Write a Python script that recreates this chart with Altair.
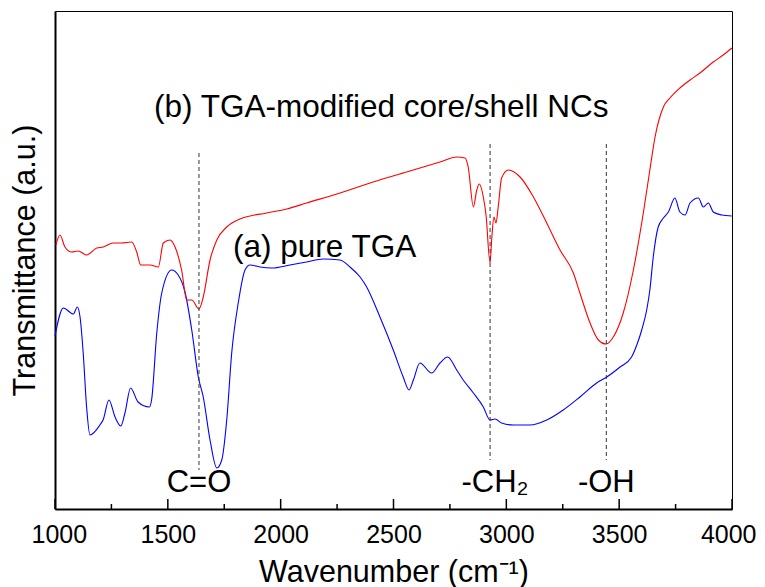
import altair as alt
import pandas as pd

# ---- curve (a) pure TGA (blue) ----
blue_wn = [1000, 1037, 1081, 1099, 1111, 1125, 1140, 1155, 1199, 1213, 1239, 1266, 1292, 1310,
           1335, 1368, 1418, 1428, 1451, 1473, 1517, 1546, 1576, 1606, 1635, 1657, 1687, 1717,
           1739, 1761, 1783, 1812, 1842, 1864, 1908, 1960, 2041, 2115, 2189, 2263, 2307, 2352,
           2381, 2440, 2499, 2543, 2569, 2588, 2617, 2669, 2706, 2740, 2780, 2809, 2854, 2898,
           2928, 2950, 2979, 3031, 3105, 3179, 3252, 3326, 3400, 3445, 3504, 3555, 3578, 3600,
           3622, 3636, 3651, 3673, 3696, 3718, 3747, 3769, 3792, 3814, 3851, 3873, 3895, 3917,
           3954, 3999]
blue_t = [173, 201, 195, 202, 192, 156, 102, 74, 84, 89, 109, 92, 83, 96,
          121, 107, 102, 109, 176, 216, 239, 234, 217, 179, 132, 112, 69, 41,
          49, 89, 156, 206, 239, 244, 242, 241, 244, 247, 250, 249, 242, 232,
          222, 192, 159, 132, 119, 129, 146, 136, 146, 152, 139, 129, 116, 102,
          89, 90, 86, 84, 84, 89, 99, 112, 126, 132, 142, 152, 164, 179,
          199, 219, 252, 282, 291, 297, 311, 297, 294, 306, 311, 302, 306, 297,
          294, 293]

# ---- curve (b) TGA-modified core/shell NCs (red) ----
red_wn = [1004, 1022, 1044, 1074, 1103, 1140, 1185, 1214, 1258, 1296, 1340, 1362, 1380, 1421,
          1458, 1480, 1510, 1532, 1561, 1584, 1606, 1638, 1657, 1687, 1717, 1761, 1820, 1938,
          2027, 2115, 2263, 2410, 2558, 2706, 2780, 2817, 2831, 2854, 2869, 2880, 2898, 2910,
          2928, 2935, 2945, 2954, 2964, 2979, 3009, 3061, 3120, 3179, 3238, 3297, 3326, 3371,
          3408, 3442, 3474, 3518, 3563, 3607, 3636, 3659, 3696, 3725, 3769, 3814, 3858, 3917,
          3961, 3999]
red_t = [264, 274, 262, 257, 258, 254, 261, 262, 266, 266, 267, 257, 244, 244,
         242, 266, 269, 262, 239, 209, 209, 200, 212, 249, 269, 282, 290, 296,
         300, 306, 316, 327, 337, 347, 352, 351, 342, 302, 319, 325, 312, 294,
         246, 269, 292, 286, 302, 331, 339, 332, 312, 286, 259, 236, 216, 186,
         169, 165, 172, 196, 239, 296, 339, 372, 402, 411, 421, 429, 436, 447,
         454, 461]

# ---- annotations ----
left_text = ["(b) TGA-modified core/shell NCs", "(a) pure TGA"]
left_wn = [1439, 1789]
left_t = [392, 252]

center_text = ["C=O", "-CH\u2082", "-OH"]
center_wn = [1638, 2950, 3443]
center_t = [17, 17, 17]

mark_wn = [1638, 2928, 3443]
mark_top = [356, 365, 365]
mark_bot = [39, 49, 49]

major_ticks = [1000, 1500, 2000, 2500, 3000, 3500, 4000]
minor_ticks = [1250, 1750, 2250, 2750, 3250, 3750]

W, H = 677, 498

lines_df = pd.concat([
    pd.DataFrame({"wn": blue_wn, "t": blue_t, "s": "a"}),
    pd.DataFrame({"wn": red_wn, "t": red_t, "s": "b"}),
])
left_df = pd.DataFrame({"wn": left_wn, "t": left_t, "txt": left_text})
center_df = pd.DataFrame({"wn": center_wn, "t": center_t, "txt": center_text})
marks_df = pd.DataFrame({"wn": mark_wn, "t": mark_top, "t2": mark_bot})
major_df = pd.DataFrame({"wn": major_ticks})
minor_df = pd.DataFrame({"wn": minor_ticks})

xs = alt.Scale(domain=[1000, 4000], nice=False, zero=False)
ys = alt.Scale(domain=[0, 498], nice=False, zero=False)

xaxis = alt.Axis(
    title="Wavenumber (cm\u207b\u00b9)", values=major_ticks, format="d",
    ticks=False, grid=False, domainColor="black", domainWidth=2,
    labelFontSize=25, labelColor="black", labelPadding=13,
    labelFlush=True, labelFlushOffset=24,
    titleFontSize=30.5, titleFontWeight="normal", titleColor="black", titlePadding=10)
yaxis = alt.Axis(
    title="Transmittance (a.u.)", labels=False, ticks=False, grid=False,
    domainColor="black", domainWidth=2,
    titleFontSize=30.5, titleFontWeight="normal", titleColor="black", titlePadding=15)

X = alt.X("wn:Q", scale=xs, axis=xaxis, title="Wavenumber (cm\u207b\u00b9)")
Y = alt.Y("t:Q", scale=ys, axis=yaxis, title="Transmittance (a.u.)")

lines = alt.Chart(lines_df).mark_line(strokeWidth=1.1, interpolate="monotone").encode(
    x=X, y=Y,
    color=alt.Color("s:N", scale=alt.Scale(domain=["a", "b"], range=["#0000ff", "#ff0000"]), legend=None),
)

dashes = alt.Chart(marks_df).mark_rule(color="#333333", strokeWidth=1, strokeDash=[4, 3]).encode(
    x=X, y=Y, y2="t2:Q",
)

txt_left = alt.Chart(left_df).mark_text(align="left", baseline="alphabetic", fontSize=31.5, color="black").encode(
    x=X, y=Y, text="txt:N",
)
txt_center = alt.Chart(center_df).mark_text(align="center", baseline="alphabetic", fontSize=31, color="black").encode(
    x=X, y=Y, text="txt:N",
)

major = alt.Chart(major_df).mark_rule(color="black", strokeWidth=1.5).encode(
    x=X, y=alt.value(H), y2=alt.value(H - 10),
)
minor = alt.Chart(minor_df).mark_rule(color="black", strokeWidth=1.5).encode(
    x=X, y=alt.value(H), y2=alt.value(H - 5),
)

chart = alt.layer(lines, dashes, txt_left, txt_center, major, minor).properties(
    width=W, height=H,
    autosize=alt.AutoSizeParams(type="none"),
    padding={"left": 47, "top": 3, "right": 25, "bottom": 79},
).configure(font="Liberation Sans").configure_view(stroke="black", strokeWidth=1)

chart.save("out.html", embed_options={"renderer": "svg", "actions": False})
